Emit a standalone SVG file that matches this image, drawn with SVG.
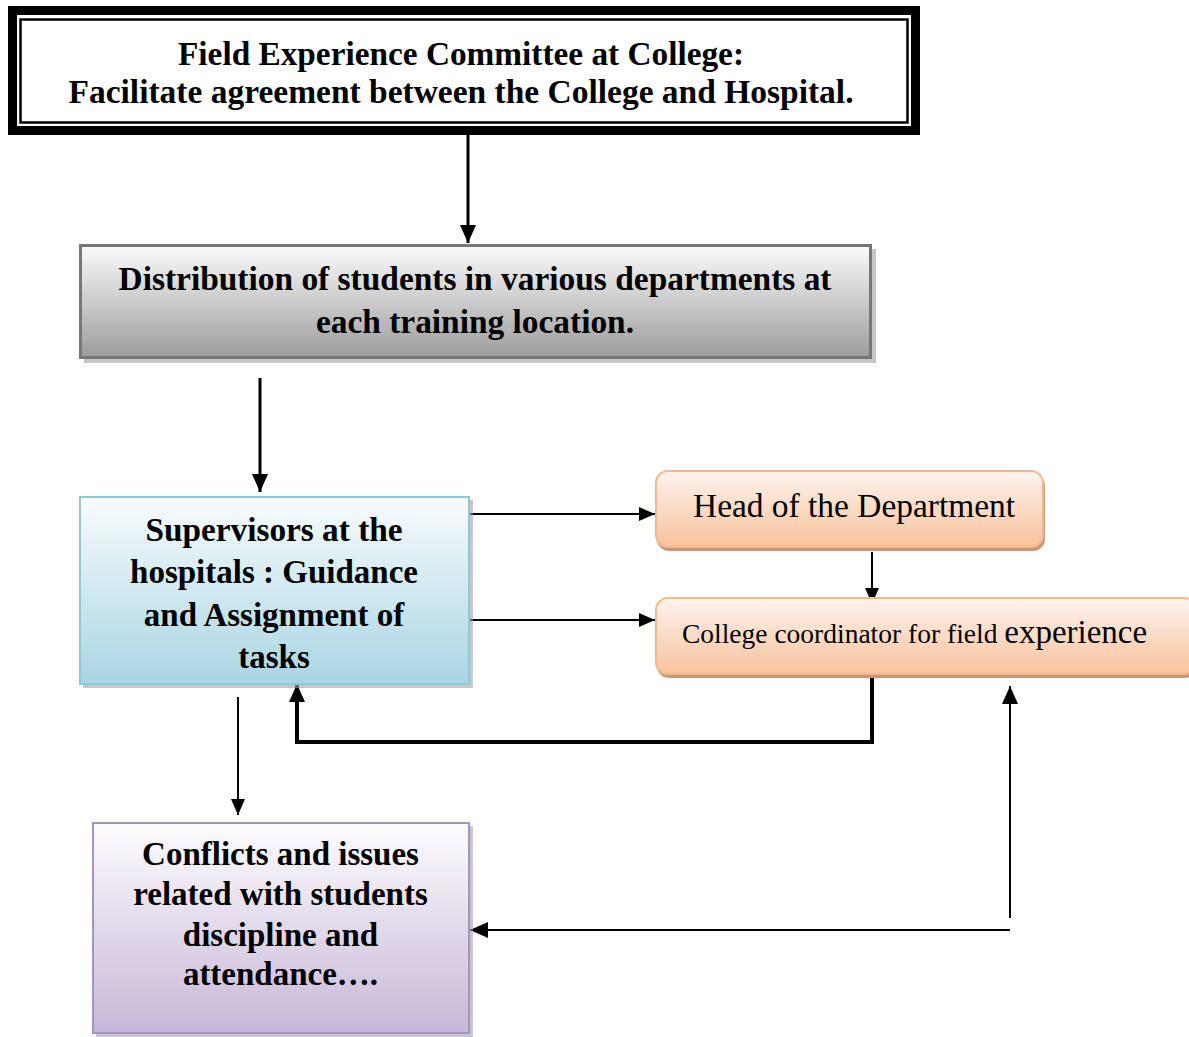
<svg xmlns="http://www.w3.org/2000/svg" width="1189" height="1037" viewBox="0 0 1189 1037">
<defs>
<linearGradient id="gGrey" x1="0" y1="0" x2="0" y2="1"><stop offset="0" stop-color="#fbfbfb"/><stop offset="1" stop-color="#9c9c9c"/></linearGradient>
<linearGradient id="gBlue" x1="0" y1="0" x2="0" y2="1"><stop offset="0" stop-color="#f8fcfd"/><stop offset="1" stop-color="#a9d5e3"/></linearGradient>
<linearGradient id="gPeach" x1="0" y1="0" x2="0" y2="1"><stop offset="0" stop-color="#fef4ee"/><stop offset="1" stop-color="#f6c29c"/></linearGradient>
<linearGradient id="gLav" x1="0" y1="0" x2="0" y2="1"><stop offset="0" stop-color="#fdfcfe"/><stop offset="1" stop-color="#c7b7d6"/></linearGradient>
<marker id="ah" viewBox="0 0 16 14" refX="16" refY="7" markerWidth="16" markerHeight="14" markerUnits="userSpaceOnUse" orient="auto"><path d="M0,0 L16,7 L0,14 Z" fill="#000"/></marker>
<marker id="ahL" viewBox="0 0 18 16" refX="18" refY="8" markerWidth="18" markerHeight="16" markerUnits="userSpaceOnUse" orient="auto"><path d="M0,0 L18,8 L0,16 Z" fill="#000"/></marker>
</defs>
<style>
.b{font-family:"Liberation Serif","Times New Roman",serif;font-weight:bold;font-size:33px;fill:#000;text-anchor:middle}
.r{font-family:"Liberation Serif","Times New Roman",serif;font-size:33px;fill:#000}
.c{fill:none;stroke:#000}
.sh{fill:#a0a0a0;opacity:0.6}
</style>
<rect width="1189" height="1037" fill="#fff"/>
<g id="connectors">
<line class="c" x1="468" y1="135" x2="468" y2="243" stroke-width="3" marker-end="url(#ahL)"/>
<line class="c" x1="260" y1="378" x2="260" y2="492" stroke-width="3" marker-end="url(#ahL)"/>
<line class="c" x1="469" y1="514" x2="655" y2="514" stroke-width="2" marker-end="url(#ah)"/>
<line class="c" x1="469" y1="620" x2="655" y2="620" stroke-width="2" marker-end="url(#ah)"/>
<line class="c" x1="872" y1="552" x2="872" y2="604" stroke-width="2" marker-end="url(#ah)"/>
<polyline class="c" points="872,676 872,742 297,742 297,684" stroke-width="4" marker-end="url(#ahL)"/>
<line class="c" x1="238" y1="697" x2="238" y2="815" stroke-width="2" marker-end="url(#ah)"/>
<line class="c" x1="1010" y1="918" x2="1010" y2="686" stroke-width="2" marker-end="url(#ahL)"/>
<line class="c" x1="1010" y1="930" x2="470" y2="930" stroke-width="2" marker-end="url(#ahL)"/>
</g>
<g id="committee">
<rect x="12.5" y="10.5" width="903" height="120" fill="#fff" stroke="#000" stroke-width="9"/>
<rect x="20.5" y="19.5" width="887" height="103" fill="none" stroke="#000" stroke-width="2.5"/>
<text class="b" x="461" y="65" textLength="566" lengthAdjust="spacingAndGlyphs">Field Experience Committee at College:</text>
<text class="b" x="461" y="103" textLength="785" lengthAdjust="spacingAndGlyphs">Facilitate agreement between the College and Hospital.</text>
</g>
<g id="distribution">
<rect class="sh" x="84" y="249" width="792" height="114"/>
<rect x="80.5" y="245.5" width="790" height="112" fill="url(#gGrey)" stroke="#777" stroke-width="3"/>
<text class="b" x="475" y="290" textLength="713" lengthAdjust="spacingAndGlyphs">Distribution of students in various departments at</text>
<text class="b" x="475" y="333" textLength="318" lengthAdjust="spacingAndGlyphs">each training location.</text>
</g>
<g id="supervisors">
<rect class="sh" x="83" y="500" width="390" height="188"/>
<rect x="80" y="497" width="389" height="187" fill="url(#gBlue)" stroke="#8fc8d8" stroke-width="2"/>
<text class="b" x="274" y="541" textLength="257" lengthAdjust="spacingAndGlyphs">Supervisors at the</text>
<text class="b" x="274" y="583">hospitals : Guidance</text>
<text class="b" x="274" y="626">and Assignment of</text>
<text class="b" x="274" y="668">tasks</text>
</g>
<g id="head">
<rect x="657" y="474" width="388" height="77" rx="12" fill="#c9967a"/>
<rect x="656" y="471" width="387" height="76" rx="12" fill="url(#gPeach)" stroke="#f3b78c" stroke-width="2"/>
<text class="r" x="693" y="517" textLength="322" lengthAdjust="spacingAndGlyphs">Head of the Department</text>
</g>
<g id="coordinator">
<rect x="657" y="601" width="540" height="77" rx="12" fill="#c9967a"/>
<rect x="656" y="598" width="540" height="76" rx="12" fill="url(#gPeach)" stroke="#f3b78c" stroke-width="2"/>
<text class="r" x="682" y="643"><tspan font-size="27.5px">College coordinator for field </tspan><tspan font-size="33px">experience</tspan></text>
</g>
<g id="conflicts">
<rect class="sh" x="96" y="826" width="377" height="211"/>
<rect x="93" y="823" width="376" height="210" fill="url(#gLav)" stroke="#a594c2" stroke-width="2"/>
<text class="b" x="280.5" y="865">Conflicts and issues</text>
<text class="b" x="280.5" y="905">related with students</text>
<text class="b" x="280.5" y="946">discipline and</text>
<text class="b" x="280.5" y="985">attendance….</text>
</g>
</svg>
